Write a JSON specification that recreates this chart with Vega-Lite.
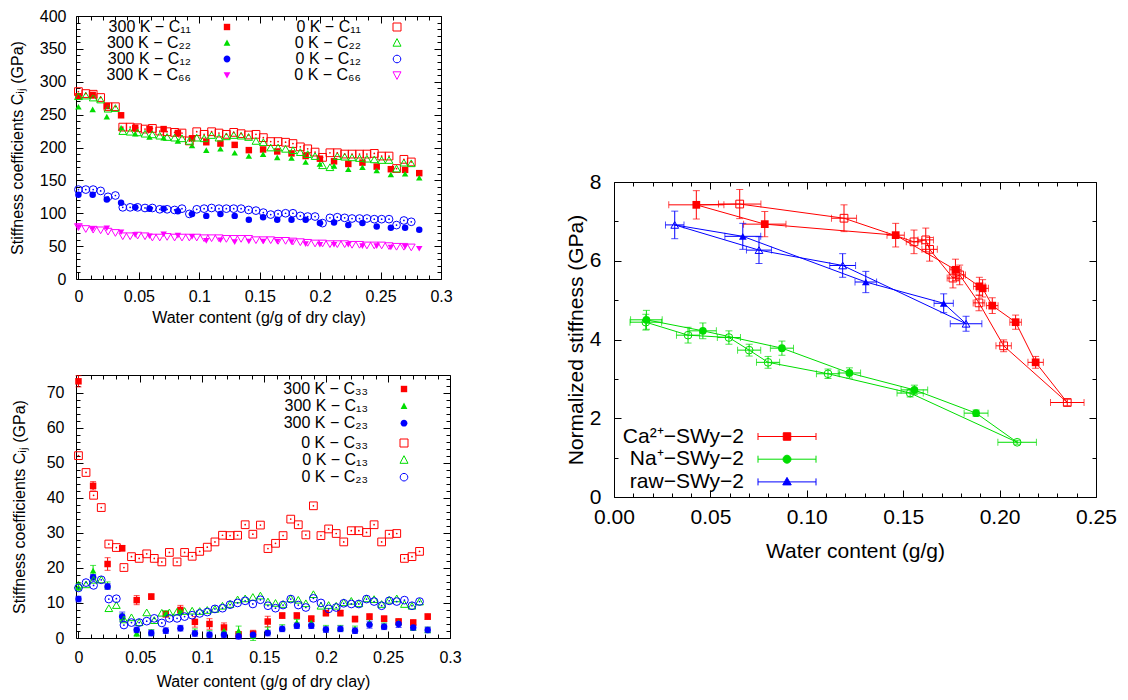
{
"$schema": "https://vega.github.io/schema/vega-lite/v6.json",
"padding": {"left": 8, "top": 7, "right": 5, "bottom": 2},
"datasets": {
"top300": [
{"s":"300 K − C₁₁","x":0,"y":278},{"s":"300 K − C₁₁","x":0.0118,"y":280},{"s":"300 K − C₁₁","x":0.0235,"y":263},{"s":"300 K − C₁₁","x":0.0353,"y":249},{"s":"300 K − C₁₁","x":0.047,"y":230},{"s":"300 K − C₁₁","x":0.0588,"y":228},{"s":"300 K − C₁₁","x":0.0705,"y":228},{"s":"300 K − C₁₁","x":0.0823,"y":222},{"s":"300 K − C₁₁","x":0.094,"y":214},{"s":"300 K − C₁₁","x":0.1058,"y":208},{"s":"300 K − C₁₁","x":0.1175,"y":206},{"s":"300 K − C₁₁","x":0.1293,"y":204},{"s":"300 K − C₁₁","x":0.141,"y":196},{"s":"300 K − C₁₁","x":0.1528,"y":197},{"s":"300 K − C₁₁","x":0.1645,"y":194},{"s":"300 K − C₁₁","x":0.1763,"y":191},{"s":"300 K − C₁₁","x":0.188,"y":187},{"s":"300 K − C₁₁","x":0.1998,"y":183},{"s":"300 K − C₁₁","x":0.2115,"y":179},{"s":"300 K − C₁₁","x":0.2233,"y":175},{"s":"300 K − C₁₁","x":0.235,"y":177},{"s":"300 K − C₁₁","x":0.2468,"y":171},{"s":"300 K − C₁₁","x":0.2585,"y":167},{"s":"300 K − C₁₁","x":0.2703,"y":166},{"s":"300 K − C₁₁","x":0.282,"y":161},
{"s":"300 K − C₂₂","x":0,"y":262},{"s":"300 K − C₂₂","x":0.0118,"y":258},{"s":"300 K − C₂₂","x":0.0235,"y":247},{"s":"300 K − C₂₂","x":0.0353,"y":230},{"s":"300 K − C₂₂","x":0.047,"y":221},{"s":"300 K − C₂₂","x":0.0588,"y":216},{"s":"300 K − C₂₂","x":0.0705,"y":215},{"s":"300 K − C₂₂","x":0.0823,"y":210},{"s":"300 K − C₂₂","x":0.094,"y":203},{"s":"300 K − C₂₂","x":0.1058,"y":196},{"s":"300 K − C₂₂","x":0.1175,"y":198},{"s":"300 K − C₂₂","x":0.1293,"y":192},{"s":"300 K − C₂₂","x":0.141,"y":187},{"s":"300 K − C₂₂","x":0.1528,"y":190},{"s":"300 K − C₂₂","x":0.1645,"y":185},{"s":"300 K − C₂₂","x":0.1763,"y":184},{"s":"300 K − C₂₂","x":0.188,"y":178},{"s":"300 K − C₂₂","x":0.1998,"y":175},{"s":"300 K − C₂₂","x":0.2115,"y":172},{"s":"300 K − C₂₂","x":0.2233,"y":167},{"s":"300 K − C₂₂","x":0.235,"y":170},{"s":"300 K − C₂₂","x":0.2468,"y":165},{"s":"300 K − C₂₂","x":0.2585,"y":159},{"s":"300 K − C₂₂","x":0.2703,"y":160},{"s":"300 K − C₂₂","x":0.282,"y":154},
{"s":"300 K − C₁₂","x":0,"y":128},{"s":"300 K − C₁₂","x":0.0118,"y":128},{"s":"300 K − C₁₂","x":0.0235,"y":121},{"s":"300 K − C₁₂","x":0.0353,"y":116},{"s":"300 K − C₁₂","x":0.047,"y":109},{"s":"300 K − C₁₂","x":0.0588,"y":107},{"s":"300 K − C₁₂","x":0.0705,"y":107},{"s":"300 K − C₁₂","x":0.0823,"y":103},{"s":"300 K − C₁₂","x":0.094,"y":99},{"s":"300 K − C₁₂","x":0.1058,"y":96},{"s":"300 K − C₁₂","x":0.1175,"y":99},{"s":"300 K − C₁₂","x":0.1293,"y":96},{"s":"300 K − C₁₂","x":0.141,"y":90},{"s":"300 K − C₁₂","x":0.1528,"y":94},{"s":"300 K − C₁₂","x":0.1645,"y":90},{"s":"300 K − C₁₂","x":0.1763,"y":90},{"s":"300 K − C₁₂","x":0.188,"y":90},{"s":"300 K − C₁₂","x":0.1998,"y":85},{"s":"300 K − C₁₂","x":0.2115,"y":86},{"s":"300 K − C₁₂","x":0.2233,"y":82},{"s":"300 K − C₁₂","x":0.235,"y":85},{"s":"300 K − C₁₂","x":0.2468,"y":80},{"s":"300 K − C₁₂","x":0.2585,"y":78},{"s":"300 K − C₁₂","x":0.2703,"y":78},{"s":"300 K − C₁₂","x":0.282,"y":75},
{"s":"300 K − C₆₆","x":0,"y":79},{"s":"300 K − C₆₆","x":0.0118,"y":76},{"s":"300 K − C₆₆","x":0.0235,"y":77},{"s":"300 K − C₆₆","x":0.0353,"y":71},{"s":"300 K − C₆₆","x":0.047,"y":67},{"s":"300 K − C₆₆","x":0.0588,"y":65},{"s":"300 K − C₆₆","x":0.0705,"y":68},{"s":"300 K − C₆₆","x":0.0823,"y":66},{"s":"300 K − C₆₆","x":0.094,"y":64},{"s":"300 K − C₆₆","x":0.1058,"y":58},{"s":"300 K − C₆₆","x":0.1175,"y":59},{"s":"300 K − C₆₆","x":0.1293,"y":56},{"s":"300 K − C₆₆","x":0.141,"y":57},{"s":"300 K − C₆₆","x":0.1528,"y":57},{"s":"300 K − C₆₆","x":0.1645,"y":57},{"s":"300 K − C₆₆","x":0.1763,"y":56},{"s":"300 K − C₆₆","x":0.188,"y":53},{"s":"300 K − C₆₆","x":0.1998,"y":52},{"s":"300 K − C₆₆","x":0.2115,"y":52},{"s":"300 K − C₆₆","x":0.2233,"y":52},{"s":"300 K − C₆₆","x":0.235,"y":50},{"s":"300 K − C₆₆","x":0.2468,"y":50},{"s":"300 K − C₆₆","x":0.2585,"y":48},{"s":"300 K − C₆₆","x":0.2703,"y":49},{"s":"300 K − C₆₆","x":0.282,"y":46}
],
"top0": [
{"s":"0 K − C₁₁","x":0,"y":285},{"s":"0 K − C₁₁","x":0.0061,"y":282},{"s":"0 K − C₁₁","x":0.0122,"y":281},{"s":"0 K − C₁₁","x":0.0184,"y":276},{"s":"0 K − C₁₁","x":0.0245,"y":262},{"s":"0 K − C₁₁","x":0.0306,"y":262},{"s":"0 K − C₁₁","x":0.0367,"y":231},{"s":"0 K − C₁₁","x":0.0428,"y":231},{"s":"0 K − C₁₁","x":0.049,"y":230},{"s":"0 K − C₁₁","x":0.0551,"y":228},{"s":"0 K − C₁₁","x":0.0612,"y":229},{"s":"0 K − C₁₁","x":0.0673,"y":225},{"s":"0 K − C₁₁","x":0.0734,"y":224},{"s":"0 K − C₁₁","x":0.0796,"y":223},{"s":"0 K − C₁₁","x":0.0857,"y":222},{"s":"0 K − C₁₁","x":0.0918,"y":210},{"s":"0 K − C₁₁","x":0.0979,"y":224},{"s":"0 K − C₁₁","x":0.104,"y":220},{"s":"0 K − C₁₁","x":0.1102,"y":224},{"s":"0 K − C₁₁","x":0.1163,"y":222},{"s":"0 K − C₁₁","x":0.1224,"y":220},{"s":"0 K − C₁₁","x":0.1285,"y":223},{"s":"0 K − C₁₁","x":0.1346,"y":221},{"s":"0 K − C₁₁","x":0.1408,"y":219},{"s":"0 K − C₁₁","x":0.1469,"y":220},{"s":"0 K − C₁₁","x":0.153,"y":215},{"s":"0 K − C₁₁","x":0.1591,"y":209},{"s":"0 K − C₁₁","x":0.1652,"y":209},{"s":"0 K − C₁₁","x":0.1714,"y":208},{"s":"0 K − C₁₁","x":0.1775,"y":206},{"s":"0 K − C₁₁","x":0.1836,"y":201},{"s":"0 K − C₁₁","x":0.1897,"y":198},{"s":"0 K − C₁₁","x":0.1958,"y":193},{"s":"0 K − C₁₁","x":0.202,"y":185},{"s":"0 K − C₁₁","x":0.2081,"y":192},{"s":"0 K − C₁₁","x":0.2142,"y":192},{"s":"0 K − C₁₁","x":0.2203,"y":190},{"s":"0 K − C₁₁","x":0.2264,"y":190},{"s":"0 K − C₁₁","x":0.2326,"y":190},{"s":"0 K − C₁₁","x":0.2387,"y":190},{"s":"0 K − C₁₁","x":0.2448,"y":191},{"s":"0 K − C₁₁","x":0.2509,"y":187},{"s":"0 K − C₁₁","x":0.257,"y":187},{"s":"0 K − C₁₁","x":0.2632,"y":168},{"s":"0 K − C₁₁","x":0.2693,"y":182},{"s":"0 K − C₁₁","x":0.2754,"y":178},
{"s":"0 K − C₂₂","x":0,"y":278},{"s":"0 K − C₂₂","x":0.0061,"y":279},{"s":"0 K − C₂₂","x":0.0122,"y":276},{"s":"0 K − C₂₂","x":0.0184,"y":273},{"s":"0 K − C₂₂","x":0.0245,"y":259},{"s":"0 K − C₂₂","x":0.0306,"y":260},{"s":"0 K − C₂₂","x":0.0367,"y":225},{"s":"0 K − C₂₂","x":0.0428,"y":224},{"s":"0 K − C₂₂","x":0.049,"y":223},{"s":"0 K − C₂₂","x":0.0551,"y":221},{"s":"0 K − C₂₂","x":0.0612,"y":220},{"s":"0 K − C₂₂","x":0.0673,"y":218},{"s":"0 K − C₂₂","x":0.0734,"y":216},{"s":"0 K − C₂₂","x":0.0796,"y":215},{"s":"0 K − C₂₂","x":0.0857,"y":214},{"s":"0 K − C₂₂","x":0.0918,"y":210},{"s":"0 K − C₂₂","x":0.0979,"y":215},{"s":"0 K − C₂₂","x":0.104,"y":214},{"s":"0 K − C₂₂","x":0.1102,"y":219},{"s":"0 K − C₂₂","x":0.1163,"y":215},{"s":"0 K − C₂₂","x":0.1224,"y":217},{"s":"0 K − C₂₂","x":0.1285,"y":219},{"s":"0 K − C₂₂","x":0.1346,"y":218},{"s":"0 K − C₂₂","x":0.1408,"y":216},{"s":"0 K − C₂₂","x":0.1469,"y":210},{"s":"0 K − C₂₂","x":0.153,"y":208},{"s":"0 K − C₂₂","x":0.1591,"y":200},{"s":"0 K − C₂₂","x":0.1652,"y":200},{"s":"0 K − C₂₂","x":0.1714,"y":198},{"s":"0 K − C₂₂","x":0.1775,"y":196},{"s":"0 K − C₂₂","x":0.1836,"y":193},{"s":"0 K − C₂₂","x":0.1897,"y":190},{"s":"0 K − C₂₂","x":0.1958,"y":187},{"s":"0 K − C₂₂","x":0.202,"y":173},{"s":"0 K − C₂₂","x":0.2081,"y":170},{"s":"0 K − C₂₂","x":0.2142,"y":187},{"s":"0 K − C₂₂","x":0.2203,"y":186},{"s":"0 K − C₂₂","x":0.2264,"y":185},{"s":"0 K − C₂₂","x":0.2326,"y":184},{"s":"0 K − C₂₂","x":0.2387,"y":183},{"s":"0 K − C₂₂","x":0.2448,"y":182},{"s":"0 K − C₂₂","x":0.2509,"y":181},{"s":"0 K − C₂₂","x":0.257,"y":181},{"s":"0 K − C₂₂","x":0.2632,"y":168},{"s":"0 K − C₂₂","x":0.2693,"y":177},{"s":"0 K − C₂₂","x":0.2754,"y":176},
{"s":"0 K − C₁₂","x":0,"y":136},{"s":"0 K − C₁₂","x":0.0061,"y":136},{"s":"0 K − C₁₂","x":0.0122,"y":136},{"s":"0 K − C₁₂","x":0.0184,"y":134},{"s":"0 K − C₁₂","x":0.0245,"y":125},{"s":"0 K − C₁₂","x":0.0306,"y":127},{"s":"0 K − C₁₂","x":0.0367,"y":109},{"s":"0 K − C₁₂","x":0.0428,"y":109},{"s":"0 K − C₁₂","x":0.049,"y":109},{"s":"0 K − C₁₂","x":0.0551,"y":108},{"s":"0 K − C₁₂","x":0.0612,"y":108},{"s":"0 K − C₁₂","x":0.0673,"y":106},{"s":"0 K − C₁₂","x":0.0734,"y":106},{"s":"0 K − C₁₂","x":0.0796,"y":105},{"s":"0 K − C₁₂","x":0.0857,"y":107},{"s":"0 K − C₁₂","x":0.0918,"y":99},{"s":"0 K − C₁₂","x":0.0979,"y":106},{"s":"0 K − C₁₂","x":0.104,"y":107},{"s":"0 K − C₁₂","x":0.1102,"y":108},{"s":"0 K − C₁₂","x":0.1163,"y":107},{"s":"0 K − C₁₂","x":0.1224,"y":107},{"s":"0 K − C₁₂","x":0.1285,"y":107},{"s":"0 K − C₁₂","x":0.1346,"y":107},{"s":"0 K − C₁₂","x":0.1408,"y":105},{"s":"0 K − C₁₂","x":0.1469,"y":104},{"s":"0 K − C₁₂","x":0.153,"y":101},{"s":"0 K − C₁₂","x":0.1591,"y":98},{"s":"0 K − C₁₂","x":0.1652,"y":99},{"s":"0 K − C₁₂","x":0.1714,"y":100},{"s":"0 K − C₁₂","x":0.1775,"y":100},{"s":"0 K − C₁₂","x":0.1836,"y":96},{"s":"0 K − C₁₂","x":0.1897,"y":95},{"s":"0 K − C₁₂","x":0.1958,"y":95},{"s":"0 K − C₁₂","x":0.202,"y":85},{"s":"0 K − C₁₂","x":0.2081,"y":93},{"s":"0 K − C₁₂","x":0.2142,"y":94},{"s":"0 K − C₁₂","x":0.2203,"y":93},{"s":"0 K − C₁₂","x":0.2264,"y":92},{"s":"0 K − C₁₂","x":0.2326,"y":92},{"s":"0 K − C₁₂","x":0.2387,"y":92},{"s":"0 K − C₁₂","x":0.2448,"y":91},{"s":"0 K − C₁₂","x":0.2509,"y":91},{"s":"0 K − C₁₂","x":0.257,"y":91},{"s":"0 K − C₁₂","x":0.2632,"y":82},{"s":"0 K − C₁₂","x":0.2693,"y":89},{"s":"0 K − C₁₂","x":0.2754,"y":87},
{"s":"0 K − C₆₆","x":0,"y":79},{"s":"0 K − C₆₆","x":0.0061,"y":76},{"s":"0 K − C₆₆","x":0.0122,"y":75},{"s":"0 K − C₆₆","x":0.0184,"y":74},{"s":"0 K − C₆₆","x":0.0245,"y":72},{"s":"0 K − C₆₆","x":0.0306,"y":70},{"s":"0 K − C₆₆","x":0.0367,"y":65},{"s":"0 K − C₆₆","x":0.0428,"y":65},{"s":"0 K − C₆₆","x":0.049,"y":66},{"s":"0 K − C₆₆","x":0.0551,"y":65},{"s":"0 K − C₆₆","x":0.0612,"y":63},{"s":"0 K − C₆₆","x":0.0673,"y":63},{"s":"0 K − C₆₆","x":0.0734,"y":64},{"s":"0 K − C₆₆","x":0.0796,"y":63},{"s":"0 K − C₆₆","x":0.0857,"y":63},{"s":"0 K − C₆₆","x":0.0918,"y":63},{"s":"0 K − C₆₆","x":0.0979,"y":63},{"s":"0 K − C₆₆","x":0.104,"y":62},{"s":"0 K − C₆₆","x":0.1102,"y":62},{"s":"0 K − C₆₆","x":0.1163,"y":62},{"s":"0 K − C₆₆","x":0.1224,"y":61},{"s":"0 K − C₆₆","x":0.1285,"y":61},{"s":"0 K − C₆₆","x":0.1346,"y":61},{"s":"0 K − C₆₆","x":0.1408,"y":61},{"s":"0 K − C₆₆","x":0.1469,"y":59},{"s":"0 K − C₆₆","x":0.153,"y":59},{"s":"0 K − C₆₆","x":0.1591,"y":59},{"s":"0 K − C₆₆","x":0.1652,"y":58},{"s":"0 K − C₆₆","x":0.1714,"y":58},{"s":"0 K − C₆₆","x":0.1775,"y":57},{"s":"0 K − C₆₆","x":0.1836,"y":56},{"s":"0 K − C₆₆","x":0.1897,"y":55},{"s":"0 K − C₆₆","x":0.1958,"y":54},{"s":"0 K − C₆₆","x":0.202,"y":54},{"s":"0 K − C₆₆","x":0.2081,"y":53},{"s":"0 K − C₆₆","x":0.2142,"y":53},{"s":"0 K − C₆₆","x":0.2203,"y":53},{"s":"0 K − C₆₆","x":0.2264,"y":52},{"s":"0 K − C₆₆","x":0.2326,"y":52},{"s":"0 K − C₆₆","x":0.2387,"y":51},{"s":"0 K − C₆₆","x":0.2448,"y":51},{"s":"0 K − C₆₆","x":0.2509,"y":51},{"s":"0 K − C₆₆","x":0.257,"y":50},{"s":"0 K − C₆₆","x":0.2632,"y":49},{"s":"0 K − C₆₆","x":0.2693,"y":49},{"s":"0 K − C₆₆","x":0.2754,"y":48}
],
"bot300": [
{"s":"300 K − C₃₃","x":0,"y":73.2,"e":1.6},{"s":"300 K − C₃₃","x":0.0118,"y":43.4,"e":1.2},{"s":"300 K − C₃₃","x":0.0235,"y":21.1,"e":1.8},{"s":"300 K − C₃₃","x":0.0353,"y":25.6,"e":0.8},{"s":"300 K − C₃₃","x":0.047,"y":10.8,"e":1.3},{"s":"300 K − C₃₃","x":0.0588,"y":11.8,"e":0.8},{"s":"300 K − C₃₃","x":0.0705,"y":6.8,"e":0.8},{"s":"300 K − C₃₃","x":0.0823,"y":8.0,"e":1.3},{"s":"300 K − C₃₃","x":0.094,"y":4.6,"e":1.5},{"s":"300 K − C₃₃","x":0.1058,"y":4.0,"e":1.5},{"s":"300 K − C₃₃","x":0.1175,"y":3.0,"e":1.3},{"s":"300 K − C₃₃","x":0.1293,"y":1.0,"e":0.8},{"s":"300 K − C₃₃","x":0.141,"y":1.2,"e":1.0},{"s":"300 K − C₃₃","x":0.1528,"y":4.7,"e":1.5},{"s":"300 K − C₃₃","x":0.1645,"y":6.4,"e":0.8},{"s":"300 K − C₃₃","x":0.1763,"y":6.4,"e":0.8},{"s":"300 K − C₃₃","x":0.188,"y":5.5,"e":0.8},{"s":"300 K − C₃₃","x":0.1998,"y":7.1,"e":0.8},{"s":"300 K − C₃₃","x":0.2115,"y":7.1,"e":0.8},{"s":"300 K − C₃₃","x":0.2233,"y":5.4,"e":0.8},{"s":"300 K − C₃₃","x":0.235,"y":6.1,"e":0.8},{"s":"300 K − C₃₃","x":0.2468,"y":5.5,"e":0.8},{"s":"300 K − C₃₃","x":0.2585,"y":4.7,"e":0.8},{"s":"300 K − C₃₃","x":0.2703,"y":4.4,"e":0.8},{"s":"300 K − C₃₃","x":0.282,"y":6.1,"e":0.8},
{"s":"300 K − C₁₃","x":0,"y":14.5,"e":1.0},{"s":"300 K − C₁₃","x":0.0118,"y":19.2,"e":1.5},{"s":"300 K − C₁₃","x":0.0235,"y":15.0,"e":1.0},{"s":"300 K − C₁₃","x":0.0353,"y":5.9,"e":1.0},{"s":"300 K − C₁₃","x":0.047,"y":1.4,"e":1.0},{"s":"300 K − C₁₃","x":0.0588,"y":1.6,"e":0.8},{"s":"300 K − C₁₃","x":0.0705,"y":7.0,"e":0.8},{"s":"300 K − C₁₃","x":0.0823,"y":7.6,"e":0.8},{"s":"300 K − C₁₃","x":0.094,"y":1.8,"e":0.8},{"s":"300 K − C₁₃","x":0.1058,"y":1.3,"e":0.8},{"s":"300 K − C₁₃","x":0.1175,"y":2.1,"e":0.8},{"s":"300 K − C₁₃","x":0.1293,"y":2.1,"e":1.3},{"s":"300 K − C₁₃","x":0.141,"y":0.6,"e":1.3},{"s":"300 K − C₁₃","x":0.1528,"y":2.1,"e":1.0},{"s":"300 K − C₁₃","x":0.1645,"y":3.0,"e":0.8},{"s":"300 K − C₁₃","x":0.1763,"y":4.5,"e":0.8},{"s":"300 K − C₁₃","x":0.188,"y":4.5,"e":0.8},{"s":"300 K − C₁₃","x":0.1998,"y":2.8,"e":0.8},{"s":"300 K − C₁₃","x":0.2115,"y":2.8,"e":0.8},{"s":"300 K − C₁₃","x":0.2233,"y":2.6,"e":0.8},{"s":"300 K − C₁₃","x":0.235,"y":4.5,"e":0.8},{"s":"300 K − C₁₃","x":0.2468,"y":3.5,"e":0.8},{"s":"300 K − C₁₃","x":0.2585,"y":4.5,"e":0.8},{"s":"300 K − C₁₃","x":0.2703,"y":3.0,"e":0.8},{"s":"300 K − C₁₃","x":0.282,"y":2.3,"e":0.8},
{"s":"300 K − C₂₃","x":0,"y":11.1,"e":0.8},{"s":"300 K − C₂₃","x":0.0118,"y":17.3,"e":0.8},{"s":"300 K − C₂₃","x":0.0235,"y":14.7,"e":0.8},{"s":"300 K − C₂₃","x":0.0353,"y":6.1,"e":1.3},{"s":"300 K − C₂₃","x":0.047,"y":2.3,"e":0.8},{"s":"300 K − C₂₃","x":0.0588,"y":1.4,"e":0.8},{"s":"300 K − C₂₃","x":0.0705,"y":2.1,"e":0.8},{"s":"300 K − C₂₃","x":0.0823,"y":2.8,"e":0.8},{"s":"300 K − C₂₃","x":0.094,"y":1.3,"e":0.8},{"s":"300 K − C₂₃","x":0.1058,"y":0.9,"e":0.8},{"s":"300 K − C₂₃","x":0.1175,"y":0.9,"e":0.8},{"s":"300 K − C₂₃","x":0.1293,"y":0.5,"e":0.8},{"s":"300 K − C₂₃","x":0.141,"y":0.9,"e":0.8},{"s":"300 K − C₂₃","x":0.1528,"y":1.4,"e":0.8},{"s":"300 K − C₂₃","x":0.1645,"y":2.6,"e":0.8},{"s":"300 K − C₂₃","x":0.1763,"y":3.5,"e":0.8},{"s":"300 K − C₂₃","x":0.188,"y":3.5,"e":0.8},{"s":"300 K − C₂₃","x":0.1998,"y":2.4,"e":0.8},{"s":"300 K − C₂₃","x":0.2115,"y":2.6,"e":0.8},{"s":"300 K − C₂₃","x":0.2233,"y":2.1,"e":0.8},{"s":"300 K − C₂₃","x":0.235,"y":3.8,"e":1.0},{"s":"300 K − C₂₃","x":0.2468,"y":3.2,"e":0.8},{"s":"300 K − C₂₃","x":0.2585,"y":4.0,"e":1.0},{"s":"300 K − C₂₃","x":0.2703,"y":3.0,"e":0.8},{"s":"300 K − C₂₃","x":0.282,"y":2.3,"e":0.8}
],
"bot0": [
{"s":"0 K − C₃₃","x":0,"y":52.0},{"s":"0 K − C₃₃","x":0.0061,"y":47.2},{"s":"0 K − C₃₃","x":0.0122,"y":40.7},{"s":"0 K − C₃₃","x":0.0184,"y":37.2},{"s":"0 K − C₃₃","x":0.0245,"y":26.8},{"s":"0 K − C₃₃","x":0.0306,"y":25.8},{"s":"0 K − C₃₃","x":0.0367,"y":20.1},{"s":"0 K − C₃₃","x":0.0428,"y":23.2},{"s":"0 K − C₃₃","x":0.049,"y":22.7},{"s":"0 K − C₃₃","x":0.0551,"y":24.0},{"s":"0 K − C₃₃","x":0.0612,"y":22.7},{"s":"0 K − C₃₃","x":0.0673,"y":21.7},{"s":"0 K − C₃₃","x":0.0734,"y":24.4},{"s":"0 K − C₃₃","x":0.0796,"y":21.7},{"s":"0 K − C₃₃","x":0.0857,"y":24.4},{"s":"0 K − C₃₃","x":0.0918,"y":23.3},{"s":"0 K − C₃₃","x":0.0979,"y":24.7},{"s":"0 K − C₃₃","x":0.104,"y":25.9},{"s":"0 K − C₃₃","x":0.1102,"y":27.4},{"s":"0 K − C₃₃","x":0.1163,"y":29.3},{"s":"0 K − C₃₃","x":0.1224,"y":29.2},{"s":"0 K − C₃₃","x":0.1285,"y":29.3},{"s":"0 K − C₃₃","x":0.1346,"y":32.3},{"s":"0 K − C₃₃","x":0.1408,"y":29.6},{"s":"0 K − C₃₃","x":0.1469,"y":32.2},{"s":"0 K − C₃₃","x":0.153,"y":25.5},{"s":"0 K − C₃₃","x":0.1591,"y":27.0},{"s":"0 K − C₃₃","x":0.1652,"y":29.2},{"s":"0 K − C₃₃","x":0.1714,"y":33.9},{"s":"0 K − C₃₃","x":0.1775,"y":32.3},{"s":"0 K − C₃₃","x":0.1836,"y":29.4},{"s":"0 K − C₃₃","x":0.1897,"y":37.7},{"s":"0 K − C₃₃","x":0.1958,"y":29.2},{"s":"0 K − C₃₃","x":0.202,"y":31.1},{"s":"0 K − C₃₃","x":0.2081,"y":29.8},{"s":"0 K − C₃₃","x":0.2142,"y":27.4},{"s":"0 K − C₃₃","x":0.2203,"y":30.6},{"s":"0 K − C₃₃","x":0.2264,"y":30.6},{"s":"0 K − C₃₃","x":0.2326,"y":30.1},{"s":"0 K − C₃₃","x":0.2387,"y":32.3},{"s":"0 K − C₃₃","x":0.2448,"y":27.4},{"s":"0 K − C₃₃","x":0.2509,"y":29.6},{"s":"0 K − C₃₃","x":0.257,"y":29.8},{"s":"0 K − C₃₃","x":0.2632,"y":22.7},{"s":"0 K − C₃₃","x":0.2693,"y":23.2},{"s":"0 K − C₃₃","x":0.2754,"y":24.7},
{"s":"0 K − C₁₃","x":0,"y":15.2},{"s":"0 K − C₁₃","x":0.0061,"y":15.3},{"s":"0 K − C₁₃","x":0.0122,"y":16.6},{"s":"0 K − C₁₃","x":0.0184,"y":16.7},{"s":"0 K − C₁₃","x":0.0245,"y":8.5},{"s":"0 K − C₁₃","x":0.0306,"y":9.4},{"s":"0 K − C₁₃","x":0.0367,"y":5.3},{"s":"0 K − C₁₃","x":0.0428,"y":5.9},{"s":"0 K − C₁₃","x":0.049,"y":4.5},{"s":"0 K − C₁₃","x":0.0551,"y":7.3},{"s":"0 K − C₁₃","x":0.0612,"y":5.1},{"s":"0 K − C₁₃","x":0.0673,"y":7.2},{"s":"0 K − C₁₃","x":0.0734,"y":7.3},{"s":"0 K − C₁₃","x":0.0796,"y":7.5},{"s":"0 K − C₁₃","x":0.0857,"y":7.7},{"s":"0 K − C₁₃","x":0.0918,"y":7.8},{"s":"0 K − C₁₃","x":0.0979,"y":7.7},{"s":"0 K − C₁₃","x":0.104,"y":8.0},{"s":"0 K − C₁₃","x":0.1102,"y":8.3},{"s":"0 K − C₁₃","x":0.1163,"y":9.2},{"s":"0 K − C₁₃","x":0.1224,"y":9.7},{"s":"0 K − C₁₃","x":0.1285,"y":11.0},{"s":"0 K − C₁₃","x":0.1346,"y":11.3},{"s":"0 K − C₁₃","x":0.1408,"y":11.7},{"s":"0 K − C₁₃","x":0.1469,"y":12.1},{"s":"0 K − C₁₃","x":0.153,"y":10.4},{"s":"0 K − C₁₃","x":0.1591,"y":10.0},{"s":"0 K − C₁₃","x":0.1652,"y":9.7},{"s":"0 K − C₁₃","x":0.1714,"y":11.3},{"s":"0 K − C₁₃","x":0.1775,"y":10.9},{"s":"0 K − C₁₃","x":0.1836,"y":9.9},{"s":"0 K − C₁₃","x":0.1897,"y":12.5},{"s":"0 K − C₁₃","x":0.1958,"y":9.2},{"s":"0 K − C₁₃","x":0.202,"y":9.4},{"s":"0 K − C₁₃","x":0.2081,"y":9.2},{"s":"0 K − C₁₃","x":0.2142,"y":10.2},{"s":"0 K − C₁₃","x":0.2203,"y":10.6},{"s":"0 K − C₁₃","x":0.2264,"y":9.9},{"s":"0 K − C₁₃","x":0.2326,"y":11.3},{"s":"0 K − C₁₃","x":0.2387,"y":11.1},{"s":"0 K − C₁₃","x":0.2448,"y":9.7},{"s":"0 K − C₁₃","x":0.2509,"y":10.9},{"s":"0 K − C₁₃","x":0.257,"y":11.3},{"s":"0 K − C₁₃","x":0.2632,"y":9.7},{"s":"0 K − C₁₃","x":0.2693,"y":9.2},{"s":"0 K − C₁₃","x":0.2754,"y":10.4},
{"s":"0 K − C₂₃","x":0,"y":14.3},{"s":"0 K − C₂₃","x":0.0061,"y":15.8},{"s":"0 K − C₂₃","x":0.0122,"y":15.0},{"s":"0 K − C₂₃","x":0.0184,"y":16.6},{"s":"0 K − C₂₃","x":0.0245,"y":11.1},{"s":"0 K − C₂₃","x":0.0306,"y":11.2},{"s":"0 K − C₂₃","x":0.0367,"y":3.7},{"s":"0 K − C₂₃","x":0.0428,"y":4.4},{"s":"0 K − C₂₃","x":0.049,"y":4.4},{"s":"0 K − C₂₃","x":0.0551,"y":4.8},{"s":"0 K − C₂₃","x":0.0612,"y":5.6},{"s":"0 K − C₂₃","x":0.0673,"y":4.3},{"s":"0 K − C₂₃","x":0.0734,"y":5.6},{"s":"0 K − C₂₃","x":0.0796,"y":5.6},{"s":"0 K − C₂₃","x":0.0857,"y":6.1},{"s":"0 K − C₂₃","x":0.0918,"y":6.5},{"s":"0 K − C₂₃","x":0.0979,"y":7.0},{"s":"0 K − C₂₃","x":0.104,"y":7.4},{"s":"0 K − C₂₃","x":0.1102,"y":8.3},{"s":"0 K − C₂₃","x":0.1163,"y":8.5},{"s":"0 K − C₂₃","x":0.1224,"y":9.5},{"s":"0 K − C₂₃","x":0.1285,"y":10.0},{"s":"0 K − C₂₃","x":0.1346,"y":10.6},{"s":"0 K − C₂₃","x":0.1408,"y":9.7},{"s":"0 K − C₂₃","x":0.1469,"y":10.9},{"s":"0 K − C₂₃","x":0.153,"y":9.2},{"s":"0 K − C₂₃","x":0.1591,"y":8.5},{"s":"0 K − C₂₃","x":0.1652,"y":9.4},{"s":"0 K − C₂₃","x":0.1714,"y":11.1},{"s":"0 K − C₂₃","x":0.1775,"y":9.4},{"s":"0 K − C₂₃","x":0.1836,"y":8.7},{"s":"0 K − C₂₃","x":0.1897,"y":11.3},{"s":"0 K − C₂₃","x":0.1958,"y":10.0},{"s":"0 K − C₂₃","x":0.202,"y":8.3},{"s":"0 K − C₂₃","x":0.2081,"y":8.7},{"s":"0 K − C₂₃","x":0.2142,"y":9.9},{"s":"0 K − C₂₃","x":0.2203,"y":9.7},{"s":"0 K − C₂₃","x":0.2264,"y":9.7},{"s":"0 K − C₂₃","x":0.2326,"y":11.1},{"s":"0 K − C₂₃","x":0.2387,"y":10.4},{"s":"0 K − C₂₃","x":0.2448,"y":9.2},{"s":"0 K − C₂₃","x":0.2509,"y":10.6},{"s":"0 K − C₂₃","x":0.257,"y":10.4},{"s":"0 K − C₂₃","x":0.2632,"y":10.8},{"s":"0 K − C₂₃","x":0.2693,"y":9.2},{"s":"0 K − C₂₃","x":0.2754,"y":10.4}
],
"right": [
{"sm":"Ca²⁺−SWy−2","t":"f","o":0,"w":0.0427,"S":7.42,"ex":0.0143,"ey":0.36},
{"sm":"Ca²⁺−SWy−2","t":"f","o":1,"w":0.0782,"S":6.93,"ex":0.011,"ey":0.32},
{"sm":"Ca²⁺−SWy−2","t":"f","o":2,"w":0.1461,"S":6.65,"ex":0.0045,"ey":0.30},
{"sm":"Ca²⁺−SWy−2","t":"f","o":3,"w":0.1771,"S":5.77,"ex":0.003,"ey":0.27},
{"sm":"Ca²⁺−SWy−2","t":"f","o":4,"w":0.1895,"S":5.35,"ex":0.003,"ey":0.23},
{"sm":"Ca²⁺−SWy−2","t":"f","o":5,"w":0.1912,"S":5.30,"ex":0.003,"ey":0.22},
{"sm":"Ca²⁺−SWy−2","t":"f","o":6,"w":0.1962,"S":4.86,"ex":0.003,"ey":0.20},
{"sm":"Ca²⁺−SWy−2","t":"f","o":7,"w":0.2083,"S":4.44,"ex":0.003,"ey":0.18},
{"sm":"Ca²⁺−SWy−2","t":"f","o":8,"w":0.2187,"S":3.42,"ex":0.004,"ey":0.15},
{"sm":"Ca²⁺−SWy−2","t":"o","o":9,"w":0.2351,"S":2.40,"ex":0.0087,"ey":0.08},
{"sm":"Ca²⁺−SWy−2","t":"o","o":10,"w":0.2021,"S":3.84,"ex":0.004,"ey":0.15},
{"sm":"Ca²⁺−SWy−2","t":"o","o":11,"w":0.1893,"S":4.93,"ex":0.003,"ey":0.20},
{"sm":"Ca²⁺−SWy−2","t":"o","o":12,"w":0.1793,"S":5.64,"ex":0.003,"ey":0.25},
{"sm":"Ca²⁺−SWy−2","t":"o","o":13,"w":0.1758,"S":5.56,"ex":0.003,"ey":0.25},
{"sm":"Ca²⁺−SWy−2","t":"o","o":14,"w":0.1637,"S":6.29,"ex":0.004,"ey":0.30},
{"sm":"Ca²⁺−SWy−2","t":"o","o":15,"w":0.1617,"S":6.53,"ex":0.004,"ey":0.30},
{"sm":"Ca²⁺−SWy−2","t":"o","o":16,"w":0.1556,"S":6.48,"ex":0.004,"ey":0.30},
{"sm":"Ca²⁺−SWy−2","t":"o","o":17,"w":0.1193,"S":7.08,"ex":0.0065,"ey":0.34},
{"sm":"Ca²⁺−SWy−2","t":"o","o":18,"w":0.0652,"S":7.44,"ex":0.011,"ey":0.37},
{"sm":"Ca²⁺−SWy−2","t":"c","o":19,"w":0.0427,"S":7.42,"ex":0,"ey":0},
{"sm":"Na⁺−SWy−2","t":"f","o":0,"w":0.0168,"S":4.50,"ex":0.0082,"ey":0.24},
{"sm":"Na⁺−SWy−2","t":"f","o":1,"w":0.0461,"S":4.22,"ex":0.007,"ey":0.20},
{"sm":"Na⁺−SWy−2","t":"f","o":2,"w":0.0871,"S":3.78,"ex":0.006,"ey":0.18},
{"sm":"Na⁺−SWy−2","t":"f","o":3,"w":0.1221,"S":3.15,"ex":0.0058,"ey":0.13},
{"sm":"Na⁺−SWy−2","t":"f","o":4,"w":0.1558,"S":2.72,"ex":0.0069,"ey":0.12},
{"sm":"Na⁺−SWy−2","t":"f","o":5,"w":0.1878,"S":2.13,"ex":0.0062,"ey":0.08},
{"sm":"Na⁺−SWy−2","t":"o","o":6,"w":0.2091,"S":1.39,"ex":0.01,"ey":0.05},
{"sm":"Na⁺−SWy−2","t":"o","o":7,"w":0.1536,"S":2.64,"ex":0.0068,"ey":0.10},
{"sm":"Na⁺−SWy−2","t":"o","o":8,"w":0.1110,"S":3.13,"ex":0.006,"ey":0.12},
{"sm":"Na⁺−SWy−2","t":"o","o":9,"w":0.0799,"S":3.42,"ex":0.006,"ey":0.15},
{"sm":"Na⁺−SWy−2","t":"o","o":10,"w":0.0701,"S":3.73,"ex":0.006,"ey":0.15},
{"sm":"Na⁺−SWy−2","t":"o","o":11,"w":0.0596,"S":4.05,"ex":0.006,"ey":0.17},
{"sm":"Na⁺−SWy−2","t":"o","o":12,"w":0.0384,"S":4.11,"ex":0.006,"ey":0.20},
{"sm":"Na⁺−SWy−2","t":"o","o":13,"w":0.0165,"S":4.44,"ex":0.0082,"ey":0.20},
{"sm":"Na⁺−SWy−2","t":"c","o":14,"w":0.0168,"S":4.50,"ex":0,"ey":0},
{"sm":"raw−SWy−2","t":"o","o":0,"w":0.0315,"S":6.91,"ex":0.0048,"ey":0.35},
{"sm":"raw−SWy−2","t":"f","o":1,"w":0.0668,"S":6.62,"ex":0.0093,"ey":0.33},
{"sm":"raw−SWy−2","t":"f","o":2,"w":0.1306,"S":5.46,"ex":0.0056,"ey":0.27},
{"sm":"raw−SWy−2","t":"f","o":3,"w":0.1710,"S":4.92,"ex":0.005,"ey":0.24},
{"sm":"raw−SWy−2","t":"o","o":4,"w":0.1826,"S":4.40,"ex":0.0082,"ey":0.19},
{"sm":"raw−SWy−2","t":"o","o":5,"w":0.1186,"S":5.88,"ex":0.0067,"ey":0.30},
{"sm":"raw−SWy−2","t":"o","o":6,"w":0.0752,"S":6.27,"ex":0.0065,"ey":0.34},
{"sm":"raw−SWy−2","t":"c","o":7,"w":0.0315,"S":6.91,"ex":0,"ey":0}
]
},
"hconcat": [
{"vconcat": [
{
"width": 365, "height": 263,
"encoding": {
"x": {"field": "x", "type": "quantitative", "scale": {"domain": [-0.002, 0.3], "nice": false, "zero": false}, "axis": null},
"y": {"field": "y", "type": "quantitative", "scale": {"domain": [0, 400], "nice": false}, "axis": null}
},
"layer": [
{"data": {"name": "top0"}, "mark": {"type": "point", "opacity": 0, "size": 0},
"encoding": {
"x": {"field": "x", "type": "quantitative", "scale": {"domain": [-0.002, 0.3], "nice": false, "zero": false},
"axis": {"orient": "top", "values": [0,0.01,0.02,0.03,0.04,0.05,0.06,0.07,0.08,0.09,0.1,0.11,0.12,0.13,0.14,0.15,0.16,0.17,0.18,0.19,0.2,0.21,0.22,0.23,0.24,0.25,0.26,0.27,0.28,0.29,0.3], "labels": false, "title": null,
"tickSize": {"condition": {"test": "abs(datum.value*20-round(datum.value*20))<1e-6", "value": -7}, "value": -4}}},
"y": {"field": "y", "type": "quantitative", "scale": {"domain": [0, 400], "nice": false},
"axis": {"orient": "right", "values": [0,10,20,30,40,50,60,70,80,90,100,110,120,130,140,150,160,170,180,190,200,210,220,230,240,250,260,270,280,290,300,310,320,330,340,350,360,370,380,390,400], "labels": false, "title": null,
"tickSize": {"condition": {"test": "datum.value%50==0", "value": -7}, "value": -4}}}
}},
{"data": {"name": "top300"}, "mark": {"type": "point", "filled": true, "size": 42, "opacity": 1},
"encoding": {
"x": {"field": "x", "type": "quantitative", "scale": {"domain": [-0.002, 0.3], "nice": false, "zero": false},
"axis": {"orient": "bottom", "values": [0,0.01,0.02,0.03,0.04,0.05,0.06,0.07,0.08,0.09,0.1,0.11,0.12,0.13,0.14,0.15,0.16,0.17,0.18,0.19,0.2,0.21,0.22,0.23,0.24,0.25,0.26,0.27,0.28,0.29,0.3],
"title": "Water content (g/g of dry clay)",
"labelExpr": "abs(datum.value*20-round(datum.value*20))<1e-6 ? format(datum.value,'~g') : ''",
"tickSize": {"condition": {"test": "abs(datum.value*20-round(datum.value*20))<1e-6", "value": -7}, "value": -4},
"labelPadding": 16, "titlePadding": 2, "labelFontSize": 16, "titleFontSize": 16}},
"y": {"field": "y", "type": "quantitative", "scale": {"domain": [0, 400], "nice": false},
"axis": {"orient": "left", "values": [0,10,20,30,40,50,60,70,80,90,100,110,120,130,140,150,160,170,180,190,200,210,220,230,240,250,260,270,280,290,300,310,320,330,340,350,360,370,380,390,400],
"title": "Stiffness coefficients Cᵢⱼ (GPa)",
"labelExpr": "datum.value%50==0 ? datum.label : ''",
"tickSize": {"condition": {"test": "datum.value%50==0", "value": -7}, "value": -4},
"labelPadding": 17, "titlePadding": 14, "labelFontSize": 16, "titleFontSize": 16}},
"color": {"field": "s", "type": "nominal", "scale": {"domain": ["300 K − C₁₁","300 K − C₂₂","300 K − C₁₂","300 K − C₆₆"], "range": ["#ff0000","#00dd00","#0000ff","#ff00ff"]}, "legend": null},
"shape": {"field": "s", "type": "nominal", "scale": {"domain": ["300 K − C₁₁","300 K − C₂₂","300 K − C₁₂","300 K − C₆₆"], "range": ["square","triangle-up","circle","triangle-down"]}, "legend": null}
}},
{"data": {"name": "top0"}, "mark": {"type": "point", "filled": false, "size": 60, "strokeWidth": 1, "opacity": 1},
"encoding": {
"color": {"field": "s", "type": "nominal", "scale": {"domain": ["0 K − C₁₁","0 K − C₂₂","0 K − C₁₂","0 K − C₆₆"], "range": ["#ff0000","#00dd00","#0000ff","#ff00ff"]}, "legend": null},
"shape": {"field": "s", "type": "nominal", "scale": {"domain": ["0 K − C₁₁","0 K − C₂₂","0 K − C₁₂","0 K − C₆₆"], "range": ["square","triangle-up","circle","triangle-down"]}, "legend": null}
}},
{"data": {"name": "top0"}, "transform": [{"filter": {"field": "s", "oneOf": ["0 K − C₁₁","0 K − C₁₂"]}}],
"mark": {"type": "point", "filled": true, "size": 3, "opacity": 1},
"encoding": {"color": {"field": "s", "type": "nominal", "scale": {"domain": ["0 K − C₁₁","0 K − C₁₂"], "range": ["#ff0000","#0000ff"]}, "legend": null}}},
{"data": {"name": "top300"}, "mark": {"type": "point", "filled": true, "size": 0, "opacity": 0},
"encoding": {
"color": {"field": "s", "type": "nominal", "scale": {"domain": ["300 K − C₁₁","300 K − C₂₂","300 K − C₁₂","300 K − C₆₆"], "range": ["#ff0000","#00dd00","#0000ff","#ff00ff"]},
"legend": {"orient": "none", "legendX": 143, "legendY": 3, "title": null, "labelAlign": "right", "labelOffset": -44, "symbolSize": 64, "symbolOpacity": 1, "symbolStrokeWidth": 0, "labelFontSize": 16, "rowPadding": -1.2, "padding": 0, "labelLimit": 300}},
"shape": {"field": "s", "type": "nominal", "scale": {"domain": ["300 K − C₁₁","300 K − C₂₂","300 K − C₁₂","300 K − C₆₆"], "range": ["M-0.8,-0.8H0.8V0.8H-0.8Z","M0,-0.9L0.85,0.7L-0.85,0.7Z","M0.85,0A0.85,0.85,0,1,1,-0.85,0A0.85,0.85,0,1,1,0.85,0Z","M0,0.9L0.85,-0.7L-0.85,-0.7Z"]},
"legend": {"orient": "none", "legendX": 143, "legendY": 3, "title": null, "labelAlign": "right", "labelOffset": -44, "symbolSize": 64, "symbolOpacity": 1, "symbolStrokeWidth": 0, "labelFontSize": 16, "rowPadding": -1.2, "padding": 0, "labelLimit": 300}}
}},
{"data": {"name": "top0"}, "mark": {"type": "point", "filled": false, "size": 0, "opacity": 0},
"encoding": {
"color": {"field": "s", "type": "nominal", "scale": {"domain": ["0 K − C₁₁","0 K − C₂₂","0 K − C₁₂","0 K − C₆₆"], "range": ["#ff0000","#00dd00","#0000ff","#ff00ff"]},
"legend": {"orient": "none", "legendX": 313, "legendY": 3, "title": null, "labelAlign": "right", "labelOffset": -44, "symbolSize": 64, "symbolOpacity": 1, "symbolStrokeWidth": 1, "labelFontSize": 16, "rowPadding": -1.2, "padding": 0, "labelLimit": 300}},
"shape": {"field": "s", "type": "nominal", "scale": {"domain": ["0 K − C₁₁","0 K − C₂₂","0 K − C₁₂","0 K − C₆₆"], "range": ["M-1,-1H1V1H-1Z","M0,-1.1L1,0.8L-1,0.8Z","M0.95,0A0.95,0.95,0,1,1,-0.95,0A0.95,0.95,0,1,1,0.95,0Z","M0,1.1L1,-0.8L-1,-0.8Z"]},
"legend": {"orient": "none", "legendX": 313, "legendY": 3, "title": null, "labelAlign": "right", "labelOffset": -44, "symbolSize": 64, "symbolOpacity": 1, "symbolStrokeWidth": 1, "labelFontSize": 16, "rowPadding": -1.2, "padding": 0, "labelLimit": 300}}
}}
],
"resolve": {"scale": {"color": "independent", "shape": "independent"}, "axis": {"x": "independent", "y": "independent"}}
},
{
"width": 374, "height": 263,
"encoding": {
"x": {"field": "x", "type": "quantitative", "scale": {"domain": [-0.002, 0.3], "nice": false, "zero": false}, "axis": null},
"y": {"field": "y", "type": "quantitative", "scale": {"domain": [0, 75], "nice": false}, "axis": null}
},
"layer": [
{"data": {"name": "bot0"}, "mark": {"type": "point", "opacity": 0, "size": 0},
"encoding": {
"x": {"field": "x", "type": "quantitative", "scale": {"domain": [-0.002, 0.3], "nice": false, "zero": false},
"axis": {"orient": "top", "values": [0,0.01,0.02,0.03,0.04,0.05,0.06,0.07,0.08,0.09,0.1,0.11,0.12,0.13,0.14,0.15,0.16,0.17,0.18,0.19,0.2,0.21,0.22,0.23,0.24,0.25,0.26,0.27,0.28,0.29,0.3], "labels": false, "title": null,
"tickSize": {"condition": {"test": "abs(datum.value*20-round(datum.value*20))<1e-6", "value": -7}, "value": -4}}},
"y": {"field": "y", "type": "quantitative", "scale": {"domain": [0, 75], "nice": false},
"axis": {"orient": "right", "values": [0,2,4,6,8,10,12,14,16,18,20,22,24,26,28,30,32,34,36,38,40,42,44,46,48,50,52,54,56,58,60,62,64,66,68,70,72,74], "labels": false, "title": null,
"tickSize": {"condition": {"test": "datum.value%10==0", "value": -7}, "value": -4}}}
}},
{"data": {"name": "bot300"}, "mark": {"type": "errorbar", "ticks": {"size": 6}},
"encoding": {
"yError": {"field": "e"},
"color": {"field": "s", "type": "nominal", "scale": {"domain": ["300 K − C₃₃","300 K − C₁₃","300 K − C₂₃"], "range": ["#ff0000","#00dd00","#0000ff"]}, "legend": null}
}},
{"data": {"name": "bot300"}, "mark": {"type": "point", "filled": true, "size": 42, "opacity": 1},
"encoding": {
"x": {"field": "x", "type": "quantitative", "scale": {"domain": [-0.002, 0.3], "nice": false, "zero": false},
"axis": {"orient": "bottom", "values": [0,0.01,0.02,0.03,0.04,0.05,0.06,0.07,0.08,0.09,0.1,0.11,0.12,0.13,0.14,0.15,0.16,0.17,0.18,0.19,0.2,0.21,0.22,0.23,0.24,0.25,0.26,0.27,0.28,0.29,0.3],
"title": "Water content (g/g of dry clay)",
"labelExpr": "abs(datum.value*20-round(datum.value*20))<1e-6 ? format(datum.value,'~g') : ''",
"tickSize": {"condition": {"test": "abs(datum.value*20-round(datum.value*20))<1e-6", "value": -7}, "value": -4},
"labelPadding": 18, "titlePadding": 5, "labelFontSize": 16, "titleFontSize": 16}},
"y": {"field": "y", "type": "quantitative", "scale": {"domain": [0, 75], "nice": false},
"axis": {"orient": "left", "values": [0,2,4,6,8,10,12,14,16,18,20,22,24,26,28,30,32,34,36,38,40,42,44,46,48,50,52,54,56,58,60,62,64,66,68,70,72,74],
"title": "Stiffness coefficients Cᵢⱼ (GPa)",
"labelExpr": "datum.value%10==0 ? datum.label : ''",
"tickSize": {"condition": {"test": "datum.value%10==0", "value": -7}, "value": -4},
"labelPadding": 19, "titlePadding": 19, "labelFontSize": 16, "titleFontSize": 16}},
"color": {"field": "s", "type": "nominal", "scale": {"domain": ["300 K − C₃₃","300 K − C₁₃","300 K − C₂₃"], "range": ["#ff0000","#00dd00","#0000ff"]}, "legend": null},
"shape": {"field": "s", "type": "nominal", "scale": {"domain": ["300 K − C₃₃","300 K − C₁₃","300 K − C₂₃"], "range": ["square","triangle-up","circle"]}, "legend": null}
}},
{"data": {"name": "bot0"}, "mark": {"type": "point", "filled": false, "size": 60, "strokeWidth": 1, "opacity": 1},
"encoding": {
"color": {"field": "s", "type": "nominal", "scale": {"domain": ["0 K − C₃₃","0 K − C₁₃","0 K − C₂₃"], "range": ["#ff0000","#00dd00","#0000ff"]}, "legend": null},
"shape": {"field": "s", "type": "nominal", "scale": {"domain": ["0 K − C₃₃","0 K − C₁₃","0 K − C₂₃"], "range": ["square","triangle-up","circle"]}, "legend": null}
}},
{"data": {"name": "bot0"}, "transform": [{"filter": {"field": "s", "oneOf": ["0 K − C₃₃","0 K − C₂₃"]}}],
"mark": {"type": "point", "filled": true, "size": 3, "opacity": 1},
"encoding": {"color": {"field": "s", "type": "nominal", "scale": {"domain": ["0 K − C₃₃","0 K − C₂₃"], "range": ["#ff0000","#0000ff"]}, "legend": null}}},
{"data": {"name": "bot300"}, "mark": {"type": "point", "filled": true, "size": 0, "opacity": 0},
"encoding": {
"color": {"field": "s", "type": "nominal", "scale": {"domain": ["300 K − C₃₃","300 K − C₁₃","300 K − C₂₃"], "range": ["#ff0000","#00dd00","#0000ff"]},
"legend": {"orient": "none", "legendX": 320, "legendY": 6, "title": null, "labelAlign": "right", "labelOffset": -44, "symbolSize": 64, "symbolOpacity": 1, "symbolStrokeWidth": 0, "labelFontSize": 16, "rowPadding": 1.1, "padding": 0, "labelLimit": 300}},
"shape": {"field": "s", "type": "nominal", "scale": {"domain": ["300 K − C₃₃","300 K − C₁₃","300 K − C₂₃"], "range": ["M-0.8,-0.8H0.8V0.8H-0.8Z","M0,-0.9L0.85,0.7L-0.85,0.7Z","M0.85,0A0.85,0.85,0,1,1,-0.85,0A0.85,0.85,0,1,1,0.85,0Z"]},
"legend": {"orient": "none", "legendX": 320, "legendY": 6, "title": null, "labelAlign": "right", "labelOffset": -44, "symbolSize": 64, "symbolOpacity": 1, "symbolStrokeWidth": 0, "labelFontSize": 16, "rowPadding": 1.1, "padding": 0, "labelLimit": 300}}
}},
{"data": {"name": "bot0"}, "mark": {"type": "point", "filled": false, "size": 0, "opacity": 0},
"encoding": {
"color": {"field": "s", "type": "nominal", "scale": {"domain": ["0 K − C₃₃","0 K − C₁₃","0 K − C₂₃"], "range": ["#ff0000","#00dd00","#0000ff"]},
"legend": {"orient": "none", "legendX": 320, "legendY": 60, "title": null, "labelAlign": "right", "labelOffset": -44, "symbolSize": 64, "symbolOpacity": 1, "symbolStrokeWidth": 1, "labelFontSize": 16, "rowPadding": 1.1, "padding": 0, "labelLimit": 300}},
"shape": {"field": "s", "type": "nominal", "scale": {"domain": ["0 K − C₃₃","0 K − C₁₃","0 K − C₂₃"], "range": ["M-1,-1H1V1H-1Z","M0,-1.1L1,0.8L-1,0.8Z","M0.95,0A0.95,0.95,0,1,1,-0.95,0A0.95,0.95,0,1,1,0.95,0Z"]},
"legend": {"orient": "none", "legendX": 320, "legendY": 60, "title": null, "labelAlign": "right", "labelOffset": -44, "symbolSize": 64, "symbolOpacity": 1, "symbolStrokeWidth": 1, "labelFontSize": 16, "rowPadding": 1.1, "padding": 0, "labelLimit": 300}}
}}
],
"resolve": {"scale": {"color": "independent", "shape": "independent"}, "axis": {"x": "independent", "y": "independent"}}
}
], "spacing": 44},
{"vconcat": [
{"width": 1, "height": 154, "data": {"values": [{"a": 1}]}, "mark": {"type": "text", "text": ""}, "encoding": {}, "view": {"stroke": null}},
{
"width": 482, "height": 315,
"data": {"name": "right"},
"encoding": {
"x": {"field": "w", "type": "quantitative", "scale": {"domain": [0, 0.25], "nice": false, "zero": false}, "axis": null},
"y": {"field": "S", "type": "quantitative", "scale": {"domain": [0, 8], "nice": false}, "axis": null},
"color": {"field": "sm", "type": "nominal", "scale": {"domain": ["Ca²⁺−SWy−2","Na⁺−SWy−2","raw−SWy−2"], "range": ["#ff0000","#00dd00","#0000ff"]}, "legend": null}
},
"layer": [
{"mark": {"type": "point", "opacity": 0, "size": 0},
"encoding": {
"x": {"field": "w", "type": "quantitative", "scale": {"domain": [0, 0.25], "nice": false, "zero": false},
"axis": {"orient": "top", "values": [0,0.01,0.02,0.03,0.04,0.05,0.06,0.07,0.08,0.09,0.1,0.11,0.12,0.13,0.14,0.15,0.16,0.17,0.18,0.19,0.2,0.21,0.22,0.23,0.24,0.25], "labels": false, "title": null,
"tickSize": {"condition": {"test": "abs(datum.value*20-round(datum.value*20))<1e-6", "value": -7}, "value": -4}}},
"y": {"field": "S", "type": "quantitative", "scale": {"domain": [0, 8], "nice": false},
"axis": {"orient": "right", "values": [0,1,2,3,4,5,6,7,8], "labels": false, "title": null,
"tickSize": {"condition": {"test": "datum.value%2==0", "value": -7}, "value": -4}}}
}},
{"mark": {"type": "line", "strokeWidth": 1},
"encoding": {
"order": {"field": "o", "type": "quantitative"},
"x": {"field": "w", "type": "quantitative", "scale": {"domain": [0, 0.25], "nice": false, "zero": false},
"axis": {"orient": "bottom", "values": [0,0.01,0.02,0.03,0.04,0.05,0.06,0.07,0.08,0.09,0.1,0.11,0.12,0.13,0.14,0.15,0.16,0.17,0.18,0.19,0.2,0.21,0.22,0.23,0.24,0.25],
"title": "Water content (g/g)",
"labelExpr": "abs(datum.value*20-round(datum.value*20))<1e-6 ? format(datum.value,'.2f') : ''",
"tickSize": {"condition": {"test": "abs(datum.value*20-round(datum.value*20))<1e-6", "value": -7}, "value": -4},
"labelPadding": 16, "titlePadding": 10, "labelFontSize": 21, "titleFontSize": 21}},
"y": {"field": "S", "type": "quantitative", "scale": {"domain": [0, 8], "nice": false},
"axis": {"orient": "left", "values": [0,1,2,3,4,5,6,7,8],
"title": "Normalized stiffness (GPa)",
"labelExpr": "datum.value%2==0 ? datum.label : ''",
"tickSize": {"condition": {"test": "datum.value%2==0", "value": -7}, "value": -4},
"labelPadding": 20, "titlePadding": 3, "labelFontSize": 21, "titleFontSize": 21}}
}},
{"transform": [{"filter": "datum.t != 'c'"}], "mark": {"type": "errorbar", "ticks": {"size": 7}},
"encoding": {"xError": {"field": "ex"}}},
{"transform": [{"filter": "datum.t != 'c'"}], "mark": {"type": "errorbar", "ticks": {"size": 7}},
"encoding": {"yError": {"field": "ey"}}},
{"transform": [{"filter": "datum.t == 'o'"}], "mark": {"type": "point", "filled": false, "size": 60, "strokeWidth": 1, "opacity": 1},
"encoding": {"shape": {"field": "sm", "type": "nominal", "scale": {"domain": ["Ca²⁺−SWy−2","Na⁺−SWy−2","raw−SWy−2"], "range": ["square","circle","triangle-up"]}, "legend": null}}},
{"transform": [{"filter": "datum.t == 'f'"}], "mark": {"type": "point", "filled": true, "size": 60, "opacity": 1},
"encoding": {"shape": {"field": "sm", "type": "nominal", "scale": {"domain": ["Ca²⁺−SWy−2","Na⁺−SWy−2","raw−SWy−2"], "range": ["square","circle","triangle-up"]}, "legend": null}}},
{"transform": [{"filter": "datum.t == 'f'"}], "mark": {"type": "point", "size": 0, "opacity": 0},
"encoding": {
"fill": {"field": "sm", "type": "nominal", "scale": {"domain": ["Ca²⁺−SWy−2","Na⁺−SWy−2","raw−SWy−2"], "range": ["#ff0000","#00dd00","#0000ff"]},
"legend": {"orient": "none", "legendX": 162.5, "legendY": 244, "title": null, "labelAlign": "right", "labelOffset": -53.5, "symbolSize": 100, "symbolOpacity": 1, "symbolStrokeWidth": 1, "labelFontSize": 21, "rowPadding": 0.7, "padding": 0, "labelLimit": 300}},
"stroke": {"field": "sm", "type": "nominal", "scale": {"domain": ["Ca²⁺−SWy−2","Na⁺−SWy−2","raw−SWy−2"], "range": ["#ff0000","#00dd00","#0000ff"]},
"legend": {"orient": "none", "legendX": 162.5, "legendY": 244, "title": null, "labelAlign": "right", "labelOffset": -53.5, "symbolSize": 100, "symbolOpacity": 1, "symbolStrokeWidth": 1, "labelFontSize": 21, "rowPadding": 0.7, "padding": 0, "labelLimit": 300}},
"shape": {"field": "sm", "type": "nominal", "scale": {"domain": ["Ca²⁺−SWy−2","Na⁺−SWy−2","raw−SWy−2"], "range": [
"M-5.8,0H5.8M-5.8,-0.7V0.7M5.8,-0.7V0.7M-0.75,-0.75H0.75V0.75H-0.75Z",
"M-5.8,0H5.8M-5.8,-0.7V0.7M5.8,-0.7V0.7M0.8,0A0.8,0.8,0,1,1,-0.8,0A0.8,0.8,0,1,1,0.8,0Z",
"M-5.8,0H5.8M-5.8,-0.7V0.7M5.8,-0.7V0.7M0,-0.9L0.85,0.6L-0.85,0.6Z"]},
"legend": {"orient": "none", "legendX": 162.5, "legendY": 244, "title": null, "labelAlign": "right", "labelOffset": -53.5, "symbolSize": 100, "symbolOpacity": 1, "symbolStrokeWidth": 1, "labelFontSize": 21, "rowPadding": 0.7, "padding": 0, "labelLimit": 300}}
}}
],
"resolve": {"scale": {"shape": "independent", "fill": "independent", "stroke": "independent"}, "axis": {"x": "independent", "y": "independent"}}
}
], "spacing": 0}
],
"spacing": 102,
"config": {
"font": "Liberation Sans",
"view": {"stroke": "#000000", "strokeWidth": 1},
"axis": {"grid": false, "domain": false, "tickColor": "#000000", "tickWidth": 1, "labelColor": "#000000", "titleColor": "#000000", "titleFontWeight": "normal", "labelFont": "Liberation Sans", "titleFont": "Liberation Sans", "labelOverlap": false, "labelFlush": false},
"legend": {"labelFont": "Liberation Sans", "labelColor": "#000000"}
}
}
